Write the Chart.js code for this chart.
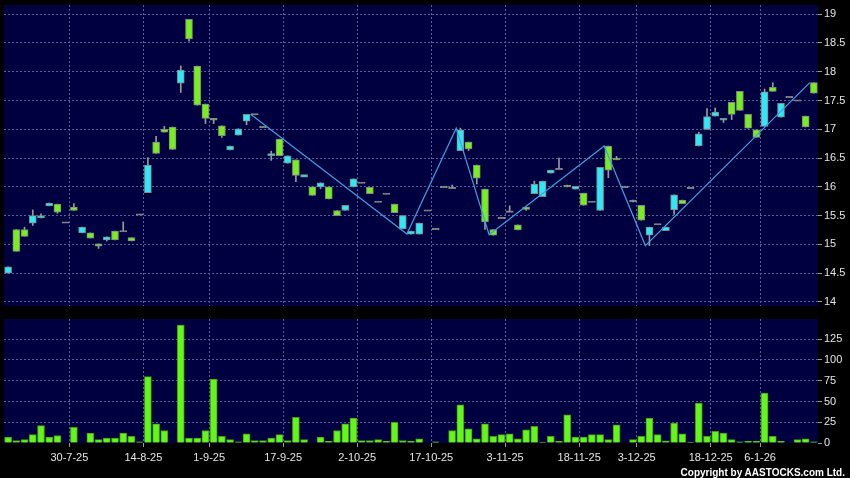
<!DOCTYPE html>
<html>
<head>
<meta charset="utf-8">
<script src="https://cdn.jsdelivr.net/npm/chart.js@4.4.1/dist/chart.umd.min.js"></script>
<style>
  html, body { margin: 0; padding: 0; background: #000; }
  body { width: 850px; height: 478px; position: relative; overflow: hidden; }
  #priceChart { position: absolute; left: 0; top: 0; }
  #volChart { position: absolute; left: 0; top: 310px; }
  #copy { position: absolute; right: 5px; top: 467px; line-height: 10px; color: #fff;
          font: bold 10px "Liberation Sans", Arial, sans-serif; }
</style>
</head>
<body>
<canvas id="priceChart" width="850" height="310"></canvas>
<canvas id="volChart" width="850" height="168"></canvas>
<div id="copy">Copyright by AASTOCKS.com Ltd.</div>
<script>
// daily candles, one slot per trading day (oldest first)
const opens = [14.50,15.26,15.26,15.37,15.46,15.67,15.70,15.38,15.65,15.20,
  15.20,15.01,15.08,15.23,15.23,15.12,15.52,15.90,16.78,17.00,
  17.04,17.80,18.91,18.10,17.44,17.19,17.06,16.64,16.90,17.14,
  17.26,17.04,16.54,16.83,16.41,16.47,16.18,16.00,16.00,16.00,
  15.59,15.59,16.00,16.07,15.99,15.74,15.88,15.70,15.27,15.18,
  15.18,15.59,15.27,16.00,15.98,16.63,16.78,16.38,15.96,15.26,
  15.46,15.57,15.34,15.65,15.88,15.83,16.24,16.31,16.03,15.96,
  15.89,15.74,15.59,16.71,16.50,16.00,15.74,15.68,15.16,15.35,
  15.24,15.60,15.77,15.98,16.71,17.00,17.23,17.16,17.47,17.66,
  17.26,16.99,17.05,17.73,17.21,17.56,17.50,17.23,17.81];
const highs = [14.61,15.26,15.30,15.60,15.53,15.72,15.70,15.38,15.71,15.30,
  15.20,15.01,15.13,15.23,15.39,15.12,15.52,16.51,16.88,17.05,
  17.04,18.10,18.91,18.10,17.44,17.19,17.06,16.71,17.01,17.26,
  17.26,17.04,16.62,16.83,16.54,16.47,16.20,16.00,16.07,16.00,
  15.59,15.68,16.14,16.07,15.99,15.74,15.88,15.70,15.50,15.23,
  15.37,15.59,15.27,16.00,16.03,17.02,16.78,16.38,15.96,15.26,
  15.46,15.67,15.34,15.65,16.10,16.10,16.29,16.50,16.03,16.01,
  15.89,15.74,16.34,16.71,16.53,16.00,15.77,15.68,15.30,15.35,
  15.30,15.86,15.77,15.98,16.95,17.36,17.37,17.19,17.47,17.66,
  17.26,16.99,17.70,17.81,17.45,17.56,17.50,17.23,17.81];
const lows = [14.50,14.88,15.14,15.33,15.46,15.67,15.54,15.38,15.59,15.20,
  15.11,14.93,15.06,15.08,15.23,15.06,15.52,15.90,16.58,16.95,
  16.65,17.64,18.53,17.42,17.10,17.10,16.86,16.64,16.90,17.08,
  17.26,17.04,16.46,16.54,16.41,16.09,16.18,15.85,15.97,15.79,
  15.50,15.59,16.00,16.07,15.88,15.74,15.88,15.55,15.27,15.18,
  15.18,15.59,15.27,16.00,15.98,16.63,16.63,16.05,15.26,15.16,
  15.46,15.57,15.25,15.59,15.88,15.83,16.24,16.31,16.00,15.96,
  15.68,15.74,15.59,16.16,16.47,16.00,15.74,15.42,14.98,15.35,
  15.24,15.52,15.71,15.98,16.71,17.00,17.23,17.12,17.17,17.33,
  17.02,16.86,17.05,17.66,17.21,17.56,17.50,17.04,17.63];
const closes = [14.61,14.88,15.14,15.50,15.50,15.72,15.56,15.38,15.59,15.30,
  15.11,14.97,15.13,15.08,15.23,15.06,15.52,16.38,16.58,16.95,
  16.65,18.03,18.57,17.42,17.19,17.16,16.89,16.71,17.01,17.26,
  17.26,17.04,16.58,16.54,16.54,16.20,16.20,15.85,16.07,15.79,
  15.50,15.68,16.14,16.07,15.88,15.74,15.88,15.55,15.50,15.23,
  15.37,15.59,15.27,16.00,15.98,16.99,16.66,16.15,15.39,15.16,
  15.46,15.57,15.25,15.61,16.05,16.10,16.29,16.31,16.00,16.01,
  15.68,15.74,16.34,16.29,16.47,16.00,15.77,15.42,15.30,15.35,
  15.30,15.86,15.71,15.98,16.92,17.22,17.30,17.19,17.26,17.33,
  17.02,16.86,17.65,17.66,17.45,17.56,17.50,17.04,17.63];
const volumes = [7,3,4,10,21,7,9,0,19,0,
  12,4,6,6,12,8,1.5,80,23,15,
  0,142,6,6,15,77,8,4,1.5,11,
  3,3,6,10,3,31,4,0,7,2,
  15,23,30,3,3,4,2,25,3,2,
  5,0,1.5,0,15,46,17,5,23,8,
  10,11,5,16,20,1,8,2,34,7,
  7,10,10,4,22,0,4,8,30,10,
  2.5,24,11,1,48,8,14,12,4,1.5,
  2,2,60,8,2,0,4,5,1.5];

// zigzag turning points (slot index, price)
const zigIdx = [30, 49, 55, 59, 73, 78, 98];
const zigVal = [17.26, 15.18, 17.02, 15.17, 16.71, 14.98, 17.81];

// date labels and the slot they sit under
const dateLabels = ['30-7-25','14-8-25','1-9-25','17-9-25','2-10-25','17-10-25',
  '3-11-25','18-11-25','3-12-25','18-12-25','6-1-26'];
const dateIdx = [7, 16, 24, 33, 42, 51, 60, 69, 76, 85, 91];

const priceTicks = [14, 14.5, 15, 15.5, 16, 16.5, 17, 17.5, 18, 18.5, 19];
const volTicks = [0, 25, 50, 75, 100, 125];

const NAVY = '#000040';
const GRID = '#5c5c98';
const TICK = '#9a9a9a';
const TXT = '#e4e4e4';
const FONT = '"Liberation Sans", Arial, sans-serif';
const UP = '#2fe8f7';
const DOWN = '#78ee1e';
const FLAT = '#9a9a9a';

const n = closes.length;
const slots = closes.map((c, i) => i);
const gridPos = dateIdx.map(i => i + 0.45);

const plotBg = {
  id: 'plotBg',
  beforeDraw(chart) {
    const a = chart.chartArea;
    const ctx = chart.ctx;
    ctx.save();
    ctx.fillStyle = NAVY;
    ctx.fillRect(a.left, a.top, a.right - a.left, a.bottom - a.top);
    ctx.restore();
  }
};

function candleColor(i) {
  if (closes[i] > opens[i]) return UP;
  if (closes[i] < opens[i]) return DOWN;
  return FLAT;
}

function bodyRange(i) {
  let lo = Math.min(opens[i], closes[i]);
  let hi = Math.max(opens[i], closes[i]);
  if (hi - lo < 0.02) { lo -= 0.012; hi += 0.012; }
  return [lo, hi];
}

const xAxis = {
  type: 'linear', min: -0.5, max: n - 0.5, offset: false,
  afterBuildTicks: s => { s.ticks = gridPos.map(v => ({ value: v })); },
  ticks: { display: false },
  grid: { color: GRID, drawTicks: false, offset: false },
  border: { display: false, dash: [2, 2] },
  afterFit: s => { s.height = 0; s.paddingLeft = 0; s.paddingRight = 0; }
};

new Chart(document.getElementById('priceChart'), {
  type: 'bar',
  data: {
    datasets: [
      {
        label: 'zigzag', type: 'line', order: 1,
        data: zigIdx.map((v, k) => ({ x: v - 0.5, y: zigVal[k] })),
        borderColor: '#3c9fe2', borderWidth: 1.2, pointRadius: 0, tension: 0
      },
      {
        label: 'body', order: 2, grouped: false, barThickness: 7,
        data: slots.map(i => ({ x: i, y: bodyRange(i) })),
        backgroundColor: slots.map(candleColor),
        borderColor: '#808a80', borderWidth: 1, borderSkipped: false
      },
      {
        label: 'wick', order: 3, grouped: false, barThickness: 1,
        data: slots.map(i => ({ x: i, y: [lows[i], highs[i]] })),
        backgroundColor: TICK, borderWidth: 0
      }
    ]
  },
  options: {
    responsive: false, animation: false,
    layout: { padding: { left: 4, top: 5, right: 0, bottom: 4 } },
    plugins: { legend: { display: false }, tooltip: { enabled: false } },
    scales: {
      x: xAxis,
      y: {
        position: 'right', min: 13.93, max: 19.16,
        afterBuildTicks: s => { s.ticks = priceTicks.map(v => ({ value: v })); },
        afterFit: s => { s.width = 32; s.paddingTop = 0; s.paddingBottom = 0; },
        ticks: { color: TXT, font: { size: 11, family: FONT }, padding: 2, callback: v => String(v) },
        grid: { color: GRID, tickColor: TICK, tickLength: 4, tickBorderDash: [] },
        border: { display: false, dash: [2, 2] }
      }
    }
  },
  plugins: [plotBg]
});

new Chart(document.getElementById('volChart'), {
  type: 'bar',
  data: {
    datasets: [{
      label: 'volume', grouped: false, barThickness: 7,
      data: slots.map(i => ({ x: i, y: volumes[i] })),
      backgroundColor: '#66f51a', borderColor: '#3e9e12', borderWidth: 1
    }]
  },
  options: {
    responsive: false, animation: false,
    layout: { padding: { left: 4, top: 9, right: 0, bottom: 0 } },
    plugins: { legend: { display: false }, tooltip: { enabled: false } },
    scales: {
      x: {
        type: 'linear', min: -0.5, max: n - 0.5, offset: false,
        afterBuildTicks: s => { s.ticks = gridPos.map(v => ({ value: v })); },
        ticks: { color: TXT, font: { size: 11, family: FONT }, padding: 4, maxRotation: 0,
                 autoSkip: false, callback: (v, k) => dateLabels[k] },
        grid: { color: GRID, tickColor: TICK, tickLength: 4, tickBorderDash: [], offset: false },
        border: { display: false, dash: [2, 2] },
        afterFit: s => { s.height = 35; s.paddingLeft = 0; s.paddingRight = 0; }
      },
      y: {
        position: 'right', min: 0, max: 149.3,
        afterBuildTicks: s => { s.ticks = volTicks.map(v => ({ value: v })); },
        afterFit: s => { s.width = 32; s.paddingTop = 0; s.paddingBottom = 0; },
        ticks: { color: TXT, font: { size: 11, family: FONT }, padding: 2 },
        grid: { color: c => (c.tick && c.tick.value === 0 ? 'rgba(0,0,0,0)' : GRID),
                tickColor: TICK, tickLength: 4, tickBorderDash: [] },
        border: { display: false, dash: [2, 2] }
      }
    }
  },
  plugins: [plotBg]
});
</script>
</body>
</html>
